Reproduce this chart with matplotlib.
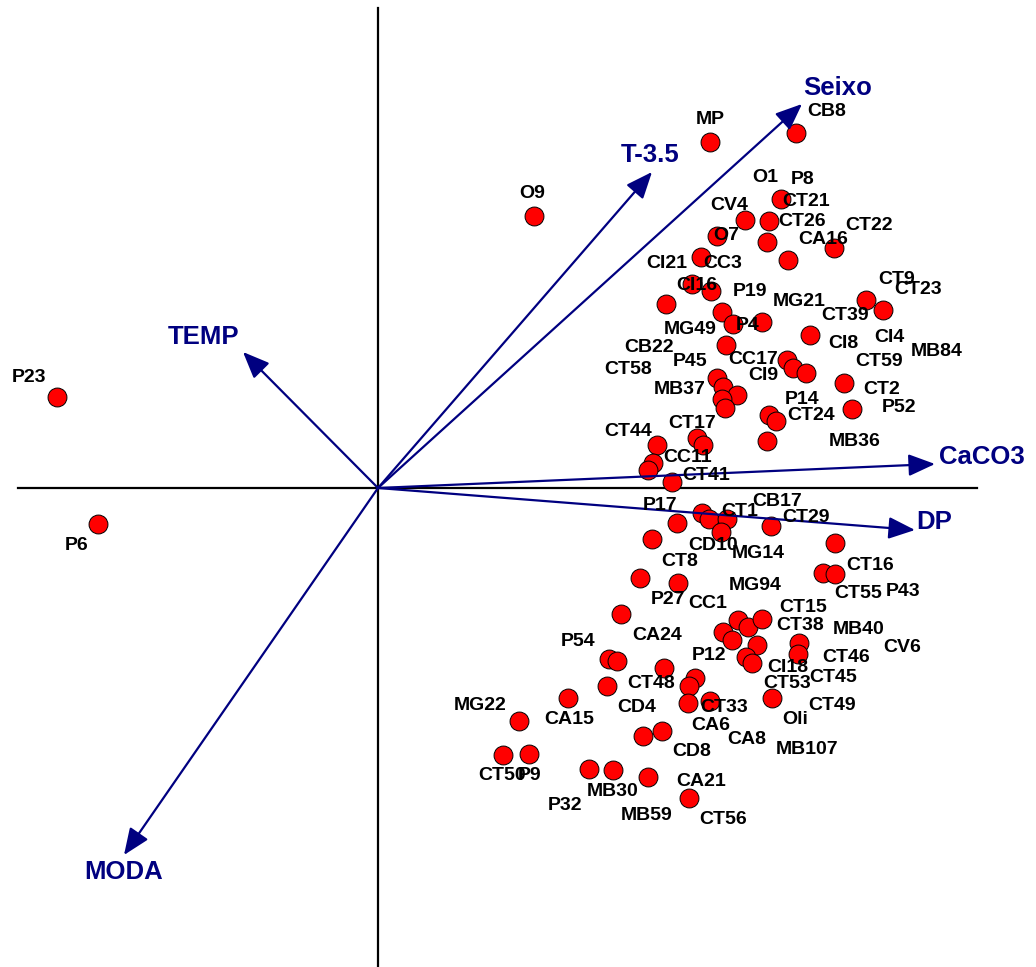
import matplotlib.pyplot as plt

# sample scores (axis 1, axis 2)
pts_x = [3.32, 4.18, 1.56, -3.21, -2.80, 4.03, 3.67, 3.91, 3.39, 3.89, 4.56, 4.10,
         3.23, 3.14, 3.33, 2.88, 3.44, 3.55, 3.84, 4.32, 4.88, 5.05, 3.48, 4.09,
         4.15, 4.28, 3.39, 3.45, 3.59, 3.44, 3.47, 4.66, 4.74, 3.91, 3.98, 3.89,
         3.19, 3.25, 2.79, 2.75, 2.70, 2.94,
         3.24, 3.31, 3.49, 3.43, 2.99, 3.93, 2.74, 4.57, 4.45, 4.57, 2.62, 3.00,
         2.43, 3.45, 3.60, 3.70, 3.84, 3.54, 3.79, 3.68, 3.74, 4.21, 4.20, 2.31,
         2.39, 2.86, 3.17, 3.11, 2.29, 1.90, 3.10, 3.32, 3.94, 1.41, 2.65, 2.84,
         1.25, 1.51, 2.11, 2.35, 2.70, 3.11]
pts_y = [3.46, 3.55, 2.72, 0.91, -0.36, 2.89, 2.68, 2.67, 2.52, 2.46, 2.40, 2.28,
         2.31, 2.04, 1.97, 1.84, 1.76, 1.64, 1.66, 1.53, 1.88, 1.78, 1.43, 1.28,
         1.20, 1.15, 1.10, 1.01, 0.93, 0.89, 0.80, 1.05, 0.79, 0.73, 0.67, 0.47,
         0.50, 0.43, 0.43, 0.25, 0.18, 0.06,
         -0.25, -0.31, -0.31, -0.44, -0.35, -0.38, -0.51, -0.55, -0.85, -0.86, -0.90, -0.95,
         -1.26, -1.44, -1.32, -1.39, -1.31, -1.52, -1.57, -1.69, -1.75, -1.55, -1.66, -1.71,
         -1.73, -1.80, -1.90, -1.98, -1.98, -2.10, -2.15, -2.13, -2.10, -2.33, -2.48, -2.43,
         -2.67, -2.66, -2.81, -2.82, -2.89, -3.10]

# sample labels as placed on the plot
lab_names = ["MP", "CB8", "O9", "O1", "P8", "CT21", "CV4", "CT26", "CT22", "CA16",
             "O7", "CI21", "CC3", "CI16", "P19", "MG21", "CT9", "CT23", "CT39", "MG49",
             "P4", "CI4", "CI8", "CB22", "MB84", "CC17", "P45", "CT59", "CT58", "CI9",
             "MB37", "CT2", "P14", "P52", "CT24", "CT17", "CT44", "MB36", "CC11", "CT41",
             "P23", "P6", "P17", "CB17", "CT1", "CT29", "CD10", "MG14", "CT16", "CT8",
             "MG94", "CT55", "P43", "P27", "CC1", "CT15", "CT38", "MB40", "CA24", "P54",
             "CV6", "P12", "CT46", "CI18", "CT48", "CT45", "CT53", "MG22", "CD4", "CT33",
             "CT49", "CA15", "Oli", "CA6", "CA8", "MB107", "CD8", "CT50", "P9", "CA21",
             "MB30", "P32", "MB59", "CT56"]
lab_x = [3.32, 4.49, 1.54, 3.87, 4.25, 4.28, 3.51, 4.24, 4.91, 4.45,
         3.48, 2.89, 3.45, 3.19, 3.72, 4.21, 5.19, 5.40, 4.67, 3.12,
         3.70, 5.11, 4.65, 2.71, 5.59, 3.75, 3.12, 5.01, 2.50, 3.85,
         3.02, 5.04, 4.24, 5.21, 4.33, 3.14, 2.50, 4.77, 3.10, 3.28,
         -3.49, -3.01, 2.82, 3.99, 3.62, 4.28, 3.35, 3.80, 4.92, 3.02,
         3.77, 4.80, 5.25, 2.90, 3.30, 4.25, 4.22, 4.81, 2.79, 2.00,
         5.24, 3.31, 4.68, 4.10, 2.73, 4.55, 4.09, 1.02, 2.59, 3.46,
         4.54, 1.91, 4.17, 3.33, 3.69, 4.29, 3.14, 1.24, 1.52, 3.23,
         2.35, 1.87, 2.69, 3.45]
lab_y = [3.68, 3.76, 2.95, 3.11, 3.08, 2.87, 2.82, 2.66, 2.62, 2.48,
         2.53, 2.25, 2.24, 2.03, 1.97, 1.86, 2.09, 1.98, 1.73, 1.59,
         1.63, 1.51, 1.45, 1.40, 1.36, 1.29, 1.26, 1.26, 1.18, 1.13,
         0.98, 0.99, 0.88, 0.80, 0.73, 0.64, 0.57, 0.46, 0.30, 0.12,
         1.11, -0.58, -0.18, -0.14, -0.23, -0.30, -0.57, -0.66, -0.77, -0.73,
         -0.98, -1.06, -1.03, -1.12, -1.16, -1.20, -1.37, -1.41, -1.48, -1.53,
         -1.60, -1.67, -1.69, -1.79, -1.95, -1.89, -1.96, -2.18, -2.20, -2.20,
         -2.18, -2.31, -2.32, -2.38, -2.52, -2.61, -2.64, -2.88, -2.88, -2.93,
         -3.03, -3.17, -3.27, -3.32]

# environmental variables (arrow tips and label positions)
var_names = ["Seixo", "T-3.5", "TEMP", "MODA", "CaCO3", "DP"]
var_x = [4.24, 2.74, -1.35, -2.54, 5.57, 5.37]
var_y = [3.84, 3.16, 1.36, -3.67, 0.24, -0.42]
var_lx = [4.60, 2.72, -1.74, -2.54, 6.04, 5.56]
var_ly = [4.00, 3.33, 1.51, -3.84, 0.31, -0.34]

navy = "#000080"
plt.rcParams['font.family'] = ['Liberation Sans', 'DejaVu Sans']

fig = plt.figure(figsize=(10.36, 9.67), dpi=100)
ax = fig.add_axes([0, 0, 1, 1])
ax.set_xlim(-3.78, 6.58)
ax.set_ylim(-4.79, 4.88)
ax.axis('off')

# axes through the origin
ax.plot([-3.60, 5.99], [0, 0], color='black', lw=1.6, zorder=1)
ax.plot([0, 0], [-4.79, 4.80], color='black', lw=1.6, zorder=1)

ax.scatter(pts_x, pts_y, s=185, c='#ff0000', edgecolors='black', linewidths=0.7, zorder=2)

for name, x, y, lx, ly in zip(var_names, var_x, var_y, var_lx, var_ly):
    ax.annotate('', xy=(x, y), xytext=(0, 0),
                arrowprops=dict(arrowstyle='-|>,head_length=0.65,head_width=0.27',
                                color=navy, lw=1.6, mutation_scale=25,
                                shrinkA=0, shrinkB=0), zorder=3)
    ax.text(lx, ly, name, color=navy, fontsize=18.5, fontweight='bold',
            ha='center', va='center', zorder=4)

for name, x, y in zip(lab_names, lab_x, lab_y):
    ax.text(x, y, name, color='black', fontsize=14, fontweight='bold',
            ha='center', va='center', zorder=4)

fig.savefig('out.png', dpi=100)
